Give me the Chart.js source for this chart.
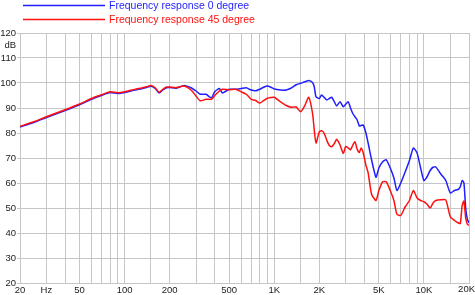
<!DOCTYPE html>
<html>
<head>
<meta charset="utf-8">
<script src="https://cdn.jsdelivr.net/npm/chart.js@4"></script>
<style>
  html, body { margin: 0; padding: 0; background: #fff; }
  #wrap { width: 475px; height: 295px; }
</style>
</head>
<body>
<div id="wrap"><canvas id="myChart" width="475" height="295"></canvas></div>
<script>
// frequencies in Hz
var freqs = [20, 25, 30, 40, 50, 60, 70, 80, 90, 100, 110, 120, 130, 140, 150, 160, 170, 180, 190, 200,
    220, 250, 280, 300, 320, 350, 380, 400, 430, 450, 500, 550, 600, 650, 700, 750, 800, 850, 900, 950,
    1000, 1100, 1200, 1300, 1400, 1500, 1600, 1700, 1800, 1850, 1900,
    2000, 2070, 2150, 2240, 2330, 2420, 2520, 2610, 2750, 2890, 3000, 3120, 3230, 3340, 3460, 3580, 3700, 3800, 3930, 4100, 4240, 4470, 4780, 5000,
    5300, 5600, 6000, 6300, 6600, 7000, 7500, 8000, 8500, 9000, 9500, 10000, 10500, 11000, 11500, 12000,
    13000, 14000, 15000, 16000, 17000, 17500, 18000, 18500, 19000, 19500, 20000];

var response0 = [82.4, 84.3, 86.2, 89.0, 91.3, 93.5, 95.0, 96.2, 95.8, 96.2, 96.8, 97.3, 97.7, 98.2, 98.7, 97.8, 96.0, 97.2, 98.1, 98.2,
    97.9, 99.0, 98.0, 96.8, 95.5, 95.5, 94.0, 96.5, 97.8, 96.0, 97.5, 97.5, 97.8, 98.1, 97.2, 96.9, 97.5, 98.3, 98.8, 98.3,
    97.6, 97.2, 97.2, 98.0, 99.3, 99.9, 100.5, 101.0, 100.2, 98.5, 94.5,
    93.8, 95.2, 94.3, 93.2, 93.8, 94.3, 92.5, 90.8, 92.5, 90.5, 91.5, 92.5, 90.0, 87.9, 86.5, 85.2, 82.8, 83.0, 83.2, 79.9, 75.9, 69.2, 62.3, 66.0,
    68.5, 69.3, 65.5, 62.0, 57.0, 60.0, 64.5, 69.0, 74.0, 72.0, 66.0, 61.0, 62.5, 65.0, 66.3, 66.4,
    63.5, 61.0, 56.0, 57.0, 57.5, 58.5, 61.0, 60.0, 50.0, 45.5, 44.0];

var response45 = [82.7, 84.6, 86.5, 89.3, 91.6, 93.8, 95.3, 96.5, 96.1, 96.5, 97.1, 97.6, 98.0, 98.5, 99.0, 98.1, 96.3, 97.5, 98.4, 98.4,
    98.1, 98.8, 97.0, 94.8, 92.9, 93.5, 93.5, 95.0, 96.8, 97.5, 97.3, 97.5, 96.5, 95.5, 93.5, 93.0, 92.0, 93.0, 93.9, 94.2,
    94.3, 92.5, 91.0, 90.3, 90.4, 88.5, 91.0, 94.3, 88.0, 81.2, 76.0,
    80.5, 80.9, 80.0, 77.2, 75.0, 74.5, 75.8, 77.5, 75.2, 71.8, 74.6, 74.0, 73.3, 75.0, 76.5, 73.5, 72.2, 74.0, 72.0, 67.0, 64.0, 55.5, 53.0, 57.0,
    60.5, 60.5, 56.5, 53.0, 47.5, 47.0, 50.5, 53.0, 57.0, 54.0, 53.0, 52.5, 51.5, 50.0, 52.0, 53.0,
    53.3, 53.2, 46.5, 45.0, 44.0, 43.8, 51.0, 52.8, 46.0, 43.5, 43.0];

// grid lines on the frequency axis and the ones that get a label
var gridFreqs = [20, 30, 40, 50, 60, 70, 80, 90, 100, 150, 200, 300, 400, 500, 600, 700, 800, 900,
    1000, 1500, 2000, 3000, 4000, 5000, 6000, 7000, 8000, 9000, 10000, 15000, 20000];
var labelFreqs = [20, 30, 50, 100, 200, 500, 1000, 2000, 5000, 10000, 20000];
var labelTexts = ["20", "Hz", "50", "100", "200", "500", "1K", "2K", "5K", "10K", "20K"];

var seriesNames = ["Frequency response 0 degree", "Frequency response 45 degree"];
var seriesColors = ["#1f1fff", "#ff1010"];

function points(values) {
    return freqs.map(function(f, i) { return { x: f, y: values[i] }; });
}

var gridColor = "#c6c6c6";
var fontFamily = "'Liberation Sans', Arial, sans-serif";
var tickFont = { family: fontFamily, size: 9.5 };

var topLegend = {
    id: "topLegend",
    afterDraw: function(chart) {
        var ctx = chart.ctx;
        ctx.save();
        ctx.font = "10.5px " + fontFamily;
        ctx.textBaseline = "middle";
        ctx.textAlign = "left";
        seriesNames.forEach(function(name, i) {
            var y = 5.5 + i * 14;
            ctx.strokeStyle = seriesColors[i];
            ctx.lineWidth = 1.5;
            ctx.beginPath();
            ctx.moveTo(23, y);
            ctx.lineTo(105, y);
            ctx.stroke();
            ctx.fillStyle = seriesColors[i];
            ctx.fillText(name, 109, y + 0.5);
        });
        // unit label under the top tick
        ctx.fillStyle = "#222";
        ctx.font = "9.5px " + fontFamily;
        ctx.textAlign = "right";
        ctx.fillText("dB", 16, chart.chartArea.top + 12.5);
        // last frequency label kept inside the canvas
        ctx.textAlign = "right";
        ctx.textBaseline = "top";
        ctx.fillText(labelTexts[labelTexts.length - 1], chart.width, chart.chartArea.bottom + 2);
        ctx.restore();
    }
};

document.addEventListener("DOMContentLoaded", function() {
    var ctx = document.getElementById("myChart").getContext("2d");

    new Chart(ctx, {
        type: "line",
        data: {
            datasets: [{
                label: seriesNames[0],
                data: points(response0),
                borderColor: seriesColors[0],
                borderWidth: 1.5,
                pointRadius: 0,
                tension: 0.2,
                fill: false,
                order: 1
            }, {
                label: seriesNames[1],
                data: points(response45),
                borderColor: seriesColors[1],
                borderWidth: 1.5,
                pointRadius: 0,
                tension: 0.2,
                fill: false,
                order: 0
            }]
        },
        options: {
            responsive: false,
            animation: false,
            events: [],
            layout: { padding: { left: 0, right: 6, top: 33, bottom: 0 } },
            plugins: {
                legend: { display: false },
                tooltip: { enabled: false }
            },
            scales: {
                x: {
                    type: "logarithmic",
                    min: 20,
                    max: 20000,
                    afterBuildTicks: function(scale) {
                        scale.ticks = gridFreqs.map(function(v) { return { value: v }; });
                    },
                    afterFit: function(scale) {
                        scale.height = 12;
                        scale.paddingLeft = 0;
                        scale.paddingRight = 0;
                    },
                    grid: { color: gridColor, drawTicks: false },
                    border: { color: gridColor },
                    ticks: {
                        autoSkip: false,
                        maxRotation: 0,
                        padding: 2,
                        color: "#222",
                        font: tickFont,
                        callback: function(value) {
                            var k = labelFreqs.indexOf(value);
                            if (k < 0 || k === labelFreqs.length - 1) return "";
                            return labelTexts[k];
                        }
                    }
                },
                y: {
                    type: "linear",
                    min: 20,
                    max: 120,
                    afterFit: function(scale) {
                        scale.width = 20;
                    },
                    grid: { color: gridColor, tickLength: 3 },
                    border: { color: gridColor },
                    ticks: {
                        stepSize: 10,
                        padding: 1,
                        color: "#222",
                        font: tickFont
                    }
                }
            }
        },
        plugins: [topLegend]
    });
});
</script>
</body>
</html>
